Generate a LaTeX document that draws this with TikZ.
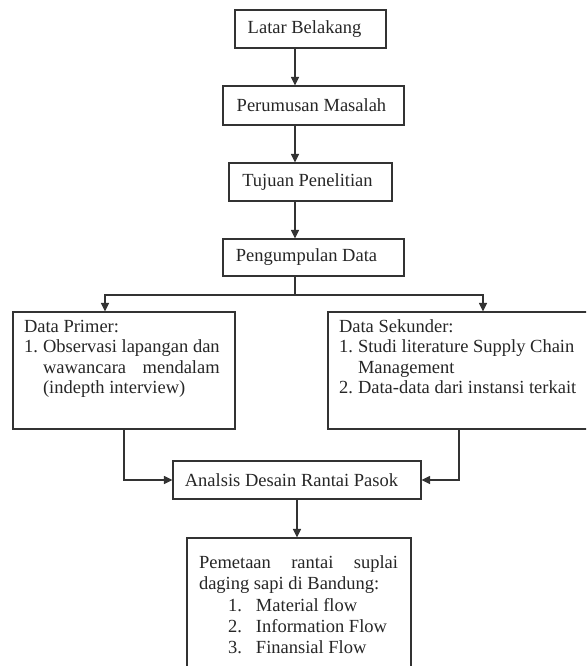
\documentclass[tikz,border=0pt]{standalone}
\usepackage{fontspec}
\setmainfont{Liberation Serif}
\usetikzlibrary{arrows.meta}
\newlength\mywa
\begin{document}
\begin{tikzpicture}[x=1pt,y=-1pt,
  box/.style={draw=black!80, line width=1.1pt, inner sep=0pt, text=black!85},
  arr/.style={draw=black!80, line width=1.1pt, -{Triangle[length=8.5pt,width=8pt]}},
  ln/.style={draw=black!80, line width=1.1pt},
  font=\fontsize{18.5}{21}\selectfont]
\useasboundingbox (0,0) rectangle (586,666);
\clip (0,0) rectangle (586,666);
\node[box, minimum width=151pt, minimum height=38pt] (latar) at (310.5,29) {\hspace*{-12pt}Latar Belakang};
\node[box, minimum width=181pt, minimum height=39pt] (perum) at (313.5,105.5) {\hspace*{-4pt}Perumusan Masalah};
\node[box, minimum width=163pt, minimum height=38pt] (tujuan) at (310.5,182) {\hspace*{-6pt}Tujuan Penelitian};
\node[box, minimum width=181pt, minimum height=37pt] (pengum) at (313.5,257.5) {\hspace*{-14pt}Pengumpulan Data};
\node[box] (primer) at (124,370.5) {\parbox[c][117pt][t]{222pt}{\fontsize{18.5}{20.5}\selectfont
  \settowidth{\mywa}{Observasi lapangan dan}%
  \vspace*{6pt}\hspace*{11pt}\begin{tabular}[t]{@{}l@{}l@{}}
  \multicolumn{2}{@{}l@{}}{Data Primer:}\\
  \makebox[19pt][l]{1.} & Observasi lapangan dan\\
  & \makebox[\mywa][s]{wawancara\hfill mendalam}\\
  & (indepth interview)
  \end{tabular}}};
\node[box] (sek) at (484,370.5) {\parbox[c][117pt][t]{312pt}{\fontsize{18.5}{20.5}\selectfont
  \vspace*{6pt}\hspace*{11pt}\begin{tabular}[t]{@{}l@{}l@{}}
  \multicolumn{2}{@{}l@{}}{Data Sekunder:}\\
  \makebox[19pt][l]{1.} & Studi literature Supply Chain\\
  & Management\\
  \makebox[19pt][l]{2.} & Data-data dari instansi terkait
  \end{tabular}}};
\node[box, minimum width=248pt, minimum height=38pt] (anal) at (297,480) {\hspace*{-11pt}Analsis Desain Rantai Pasok};
\node[box] (pem) at (299,629) {\parbox[c][182pt][t]{224pt}{\fontsize{18.5}{21.3}\selectfont
  \vspace*{15.6pt}\hspace*{12pt}\begin{tabular}[t]{@{}l@{}}
  \makebox[199pt][s]{Pemetaan\hfill rantai\hfill suplai}\\
  daging sapi di Bandung:\\
  \hspace*{29pt}\makebox[28pt][l]{1.}Material flow\\
  \hspace*{29pt}\makebox[28pt][l]{2.}Information Flow\\
  \hspace*{29pt}\makebox[28pt][l]{3.}Finansial Flow
  \end{tabular}}};
\coordinate (ax) at (295,0);
\coordinate (split) at (295,295);
\coordinate (lx) at (105,0);
\coordinate (rx) at (483,0);
\coordinate (sx) at (459,0);
\draw[arr] (latar.south -| ax) -- (perum.north -| ax);
\draw[arr] (perum.south -| ax) -- (tujuan.north -| ax);
\draw[arr] (tujuan.south -| ax) -- (pengum.north -| ax);
\draw[ln] (pengum.south -| ax) -- (split);
\draw[arr] (split) -| (primer.north -| lx);
\draw[arr] (split) -| (sek.north -| rx);
\draw[arr] (primer.south) |- (anal.west);
\draw[arr] (sek.south -| sx) |- (anal.east);
\draw[arr] (anal.south) -- (pem.north -| anal.south);
\end{tikzpicture}
\end{document}
